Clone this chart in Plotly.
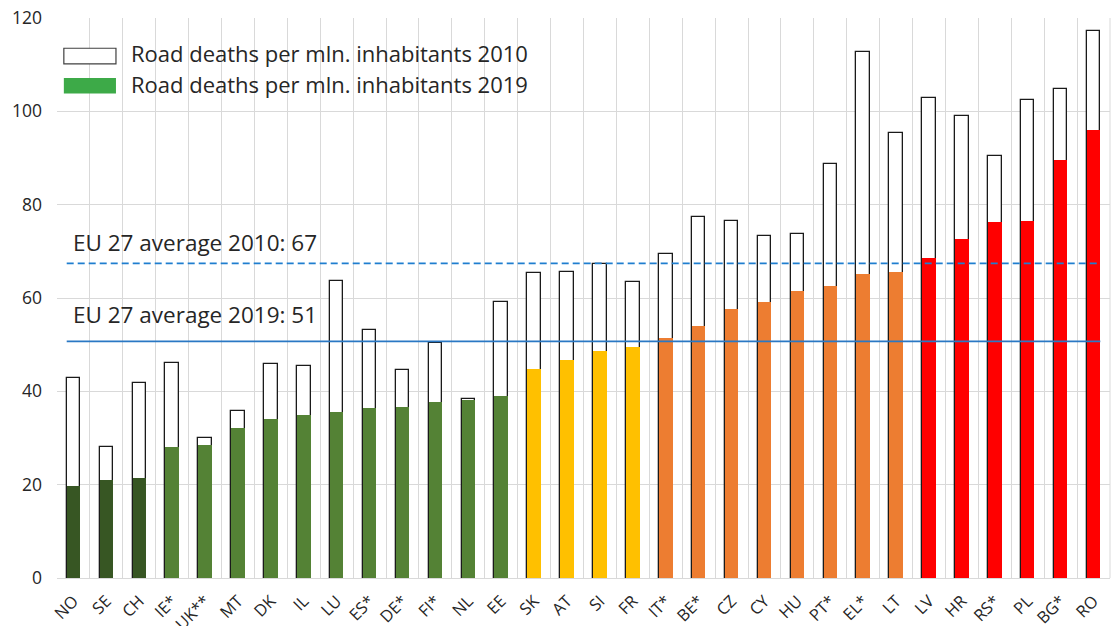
import plotly.graph_objects as go

countries = ["NO", "SE", "CH", "IE*", "UK**", "MT", "DK", "IL", "LU", "ES*", "DE*", "FI*",
             "NL", "EE", "SK", "AT", "SI", "FR", "IT*", "BE*", "CZ", "CY", "HU", "PT*",
             "EL*", "LT", "LV", "HR", "RS*", "PL", "BG*", "RO"]
deaths_2010 = [42.9, 28.1, 41.8, 46.1, 30.0, 35.8, 45.9, 45.4, 63.6, 53.1, 44.6, 50.4,
               38.4, 59.1, 65.4, 65.6, 67.3, 63.4, 69.4, 77.4, 76.5, 73.3, 73.7, 88.7,
               112.7, 95.4, 102.9, 99.0, 90.4, 102.4, 104.8, 117.2]
deaths_2019 = [19.8, 20.9, 21.4, 28.1, 28.5, 32.1, 34.0, 35.0, 35.6, 36.4, 36.6, 37.7,
               38.1, 39.0, 44.7, 46.7, 48.7, 49.6, 51.5, 53.9, 57.6, 59.1, 61.4, 62.6,
               65.1, 65.6, 68.6, 72.6, 76.3, 76.5, 89.6, 95.9]
groups = ["best"] * 3 + ["good"] * 11 + ["mid"] * 4 + ["high"] * 8 + ["worst"] * 6
group_colors = {"best": "#375623", "good": "#548235", "mid": "#FFC000",
                "high": "#ED7D31", "worst": "#FF0000"}
avg_2010 = 67.4
avg_2019 = 50.7
series_names = ["Road deaths per mln. inhabitants 2010", "Road deaths per mln. inhabitants 2019"]
y_ticks = [0, 20, 40, 60, 80, 100, 120]

FONT = "Open Sans"
TXT = "#262626"
BW = 0.41
n = len(countries)
bar_colors = [group_colors[g] for g in groups]

fig = go.Figure()
fig.add_trace(go.Bar(x=countries, y=deaths_2010, width=BW, name=series_names[0],
                     marker=dict(color="white", line=dict(color="#1a1a1a", width=1.3)),
                     showlegend=False))
fig.add_trace(go.Bar(x=countries, y=deaths_2019, width=BW, name=series_names[1],
                     marker=dict(color=bar_colors, line=dict(width=0)),
                     showlegend=False))

# average lines (drawn above bars)
fig.add_shape(type="line", xref="x", yref="y", x0=-BW / 2, x1=n - 1 + BW / 2,
              y0=avg_2010, y1=avg_2010, line=dict(color="#1F7ECF", width=1.7, dash="7px,4px"))
fig.add_shape(type="line", xref="x", yref="y", x0=-BW / 2, x1=n - 1 + BW / 2,
              y0=avg_2019, y1=avg_2019, line=dict(color="#2A78C4", width=1.7))
fig.add_annotation(x=-0.06, y=avg_2010 + 4.4, xref="x", yref="y", xanchor="left", yanchor="middle",
                   text=f"EU 27 average 2010: {round(avg_2010)}", showarrow=False,
                   font=dict(family=FONT, size=22.5, color=TXT))
fig.add_annotation(x=-0.06, y=avg_2019 + 5.7, xref="x", yref="y", xanchor="left", yanchor="middle",
                   text=f"EU 27 average 2019: {round(avg_2019)}", showarrow=False,
                   font=dict(family=FONT, size=22.5, color=TXT))

# custom legend
fig.add_shape(type="rect", xref="paper", yref="paper", x0=0.0065, x1=0.056, y0=0.918, y1=0.946,
              line=dict(color="#404040", width=1.2), fillcolor="white")
fig.add_shape(type="rect", xref="paper", yref="paper", x0=0.0065, x1=0.056, y0=0.865, y1=0.893,
              line=dict(width=0), fillcolor="#3DAA48")
fig.add_annotation(x=0.0685, y=0.937, xref="paper", yref="paper", xanchor="left", yanchor="middle",
                   text=series_names[0], showarrow=False, font=dict(family=FONT, size=22, color=TXT))
fig.add_annotation(x=0.0685, y=0.883, xref="paper", yref="paper", xanchor="left", yanchor="middle",
                   text=series_names[1], showarrow=False, font=dict(family=FONT, size=22, color=TXT))

fig.update_layout(
    width=1119, height=626,
    margin=dict(l=57, r=9, t=18, b=48),
    paper_bgcolor="white", plot_bgcolor="white",
    barmode="overlay", bargap=0,
    font=dict(family=FONT, color=TXT),
    xaxis=dict(type="category", range=[-0.5, n - 0.5], tickangle=-45, tickson="boundaries",
               showgrid=True, gridcolor="#D9D9D9", gridwidth=1, ticks="",
               showline=True, linecolor="#D9D9D9", linewidth=1, mirror=False,
               ticklabelstandoff=6,
               tickfont=dict(family=FONT, size=16.5, color=TXT), automargin=False),
    yaxis=dict(range=[0, 120], tickvals=y_ticks, showgrid=True, gridcolor="#D9D9D9", gridwidth=1,
               zeroline=False, showline=False, ticks="", ticklabelstandoff=14,
               tickfont=dict(family=FONT, size=17.5, color=TXT), automargin=False),
)
fig.add_shape(type="line", xref="paper", yref="paper", x0=1, x1=1, y0=0, y1=1,
              line=dict(color="#D9D9D9", width=1), layer="below")

fig.write_html("out.html", config={"displayModeBar": False},
               post_script="document.body.style.margin='0px';document.body.style.overflow='hidden';")
